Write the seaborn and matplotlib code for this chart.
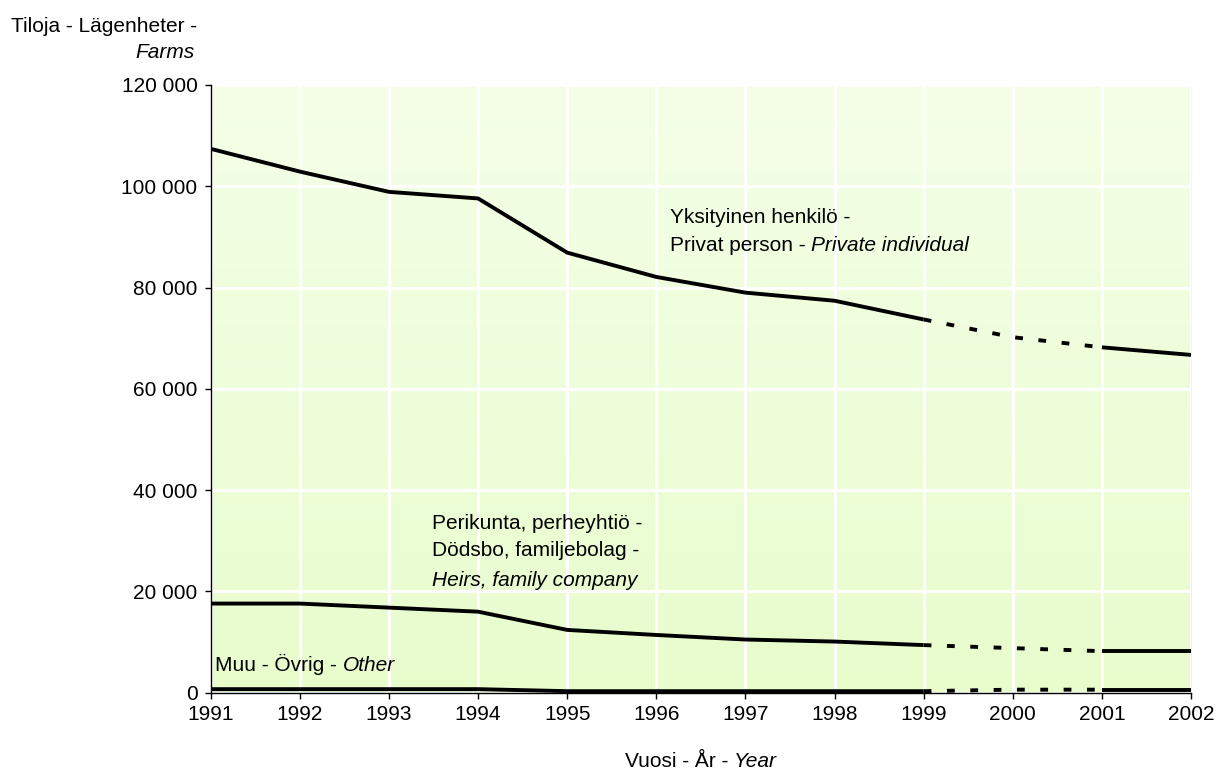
import numpy as np
import pandas as pd
import seaborn as sns
import matplotlib.pyplot as plt
from matplotlib.ticker import FuncFormatter

years = [1991, 1992, 1993, 1994, 1995, 1996, 1997, 1998, 1999, 2000, 2001, 2002]
private = [107400, 102900, 98900, 97600, 86900, 82100, 79000, 77400, 73700, 70200, 68200, 66700]
heirs = [17600, 17600, 16800, 16000, 12400, 11400, 10500, 10100, 9400, 8800, 8200, 8200]
other = [700, 700, 700, 700, 300, 300, 300, 300, 300, 600, 600, 600]

series_names = ["private", "heirs", "other"]
# 1999-2001 drawn dashed (estimates), rest solid
segments = [(0, 9, "solid"), (8, 11, "dashed"), (10, 12, "solid")]

FS = 15

sns.set_theme(style="white")
plt.rcParams["font.family"] = ["Liberation Sans", "DejaVu Sans"]
plt.rcParams["font.size"] = FS

fig = plt.figure(figsize=(12.21, 7.74), dpi=100)
ax = fig.add_axes([210.7 / 1221, 1 - 692.7 / 774, (1191 - 210.7) / 1221, (692.7 - 85) / 774])

# light green gradient background
grad = np.linspace(0, 1, 256).reshape(-1, 1)
top = np.array([0.96, 1.0, 0.91])
bot = np.array([0.91, 0.99, 0.80])
img = top[None, None, :] * (1 - grad[:, :, None]) + bot[None, None, :] * grad[:, :, None]
ax.imshow(img, extent=[0, 1, 0, 1], transform=ax.transAxes, aspect="auto", zorder=0)

df = pd.DataFrame({"year": years, "private": private, "heirs": heirs, "other": other})
for name in series_names:
    for start, end, kind in segments:
        part = df.iloc[start:end]
        line = sns.lineplot(x=part["year"], y=part[name], ax=ax, color="black",
                            linewidth=2.8, zorder=3)
        if kind == "dashed":
            line.lines[-1].set_dashes((2, 4))
        line.lines[-1].set_solid_capstyle("butt")
        line.lines[-1].set_dash_capstyle("butt")

ax.set_xlim(1991, 2002)
ax.set_ylim(0, 120000)
ax.set_xticks(years)
ax.set_yticks(range(0, 120001, 20000))
ax.yaxis.set_major_formatter(FuncFormatter(lambda v, p: f"{int(v):,}".replace(",", " ")))
ax.grid(True, color="white", linewidth=2.2)
ax.set_axisbelow(True)
ax.set_xlabel("")
ax.set_ylabel("")
for s in ["top", "right"]:
    ax.spines[s].set_visible(False)
for s in ["left", "bottom"]:
    ax.spines[s].set_color("black")
    ax.spines[s].set_linewidth(1.0)
ax.tick_params(axis="both", direction="out", length=4.5, width=1.0, color="black",
               labelsize=FS, labelcolor="black", left=True, bottom=True)
ax.tick_params(axis="x", pad=4)
ax.tick_params(axis="y", pad=5)


def two_part(x, y, plain, italic):
    t = ax.text(x, y, plain, ha="left", va="baseline", fontsize=FS, color="black", zorder=4)
    if italic:
        ax.annotate(italic, xy=(1, 0), xycoords=t, ha="left", va="bottom",
                    fontsize=FS, style="italic", color="black", zorder=4)


two_part(1996.15, 92800, "Yksityinen henkilö -", None)
two_part(1996.15, 87300, "Privat person - ", "Private individual")
two_part(1993.48, 32400, "Perikunta, perheyhtiö -", None)
two_part(1993.48, 26900, "Dödsbo, familjebolag -", None)
ax.text(1993.48, 21000, "Heirs, family company", ha="left", va="baseline",
        fontsize=FS, style="italic", color="black", zorder=4)
two_part(1991.05, 4300, "Muu - Övrig - ", "Other")

fig.text(197 / 1221, 1 - 31.7 / 774, "Tiloja - Lägenheter -", ha="right", va="baseline",
         fontsize=FS, color="black")
fig.text(195 / 1221, 1 - 58 / 774, "Farms", ha="right", va="baseline",
         fontsize=FS, style="italic", color="black")

# x label, centred as a whole under the axis
xl = fig.text(0.5, 1 - 767 / 774, "Vuosi - År - ", ha="left", va="baseline",
              fontsize=FS, color="black")
xi = ax.annotate("Year", xy=(1, 0), xycoords=xl, ha="left", va="bottom", fontsize=FS,
                 style="italic", color="black", annotation_clip=False)
fig.canvas.draw()
r = fig.canvas.get_renderer()
w = xl.get_window_extent(r).width + xi.get_window_extent(r).width
xl.set_x((701 - w / 2) / 1221)

fig.savefig("out.png", dpi=100)
